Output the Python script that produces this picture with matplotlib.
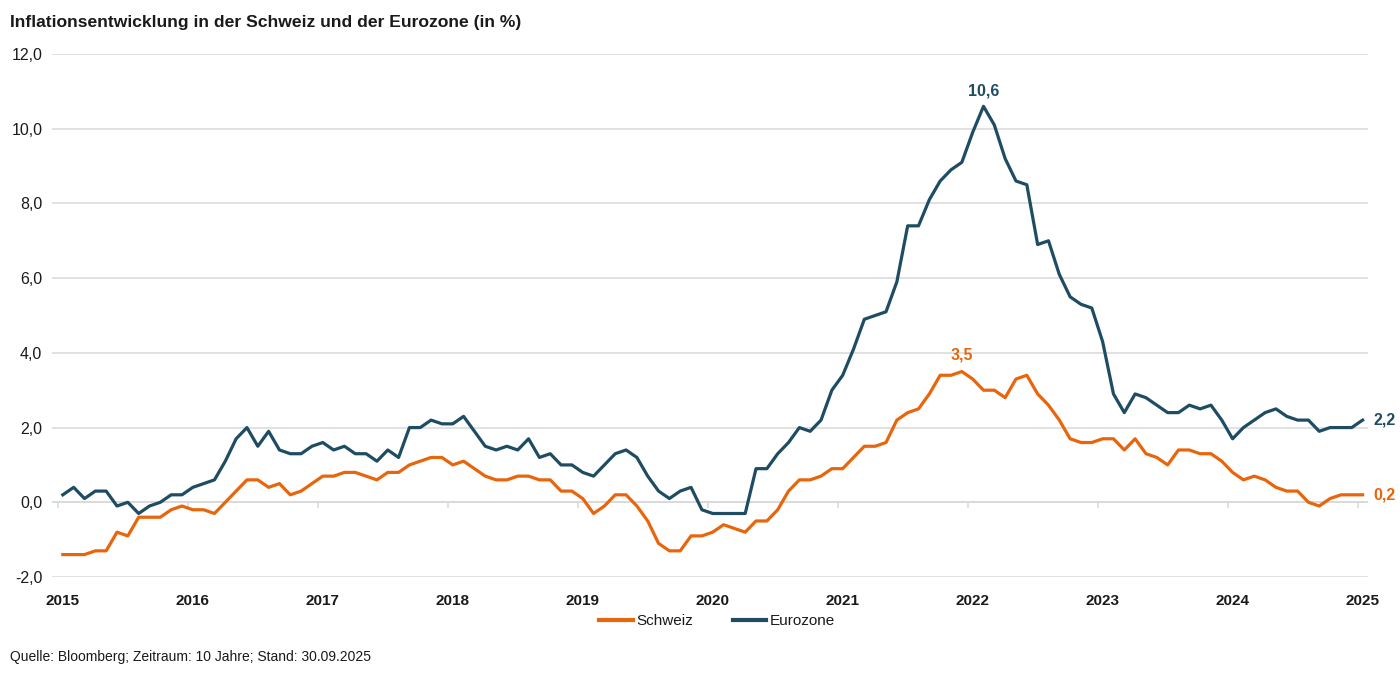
import matplotlib
matplotlib.use("Agg")
import matplotlib.pyplot as plt
import numpy as np

plt.rcParams['font.family'] = ['Liberation Sans', 'DejaVu Sans']

# Monthly inflation (in %), 121 observations
schweiz = [
    -1.4, -1.4, -1.4, -1.3,
    -1.3, -0.8, -0.9, -0.4, -0.4, -0.4, -0.2, -0.1, -0.2, -0.2, -0.3, 0.0,
    0.3, 0.6, 0.6, 0.4, 0.5, 0.2, 0.3, 0.5, 0.7, 0.7, 0.8, 0.8,
    0.7, 0.6, 0.8, 0.8, 1.0, 1.1, 1.2, 1.2, 1.0, 1.1, 0.9, 0.7,
    0.6, 0.6, 0.7, 0.7, 0.6, 0.6, 0.3, 0.3, 0.1, -0.3, -0.1, 0.2,
    0.2, -0.1, -0.5, -1.1, -1.3, -1.3, -0.9, -0.9, -0.8, -0.6, -0.7, -0.8,
    -0.5, -0.5, -0.2, 0.3, 0.6, 0.6, 0.7, 0.9, 0.9, 1.2, 1.5, 1.5,
    1.6, 2.2, 2.4, 2.5, 2.9, 3.4, 3.4, 3.5, 3.3, 3.0, 3.0, 2.8,
    3.3, 3.4, 2.9, 2.6, 2.2, 1.7, 1.6, 1.6, 1.7, 1.7, 1.4, 1.7,
    1.3, 1.2, 1.0, 1.4, 1.4, 1.3, 1.3, 1.1, 0.8, 0.6, 0.7, 0.6,
    0.4, 0.3, 0.3, 0.0, -0.1, 0.1, 0.2, 0.2, 0.2,
]
eurozone = [
    0.2, 0.4, 0.1, 0.3,
    0.3, -0.1, 0.0, -0.3, -0.1, 0.0, 0.2, 0.2, 0.4, 0.5, 0.6, 1.1,
    1.7, 2.0, 1.5, 1.9, 1.4, 1.3, 1.3, 1.5, 1.6, 1.4, 1.5, 1.3,
    1.3, 1.1, 1.4, 1.2, 2.0, 2.0, 2.2, 2.1, 2.1, 2.3, 1.9, 1.5,
    1.4, 1.5, 1.4, 1.7, 1.2, 1.3, 1.0, 1.0, 0.8, 0.7, 1.0, 1.3,
    1.4, 1.2, 0.7, 0.3, 0.1, 0.3, 0.4, -0.2, -0.3, -0.3, -0.3, -0.3,
    0.9, 0.9, 1.3, 1.6, 2.0, 1.9, 2.2, 3.0, 3.4, 4.1, 4.9, 5.0,
    5.1, 5.9, 7.4, 7.4, 8.1, 8.6, 8.9, 9.1, 9.9, 10.6, 10.1, 9.2,
    8.6, 8.5, 6.9, 7.0, 6.1, 5.5, 5.3, 5.2, 4.3, 2.9, 2.4, 2.9,
    2.8, 2.6, 2.4, 2.4, 2.6, 2.5, 2.6, 2.2, 1.7, 2.0, 2.2, 2.4,
    2.5, 2.3, 2.2, 2.2, 1.9, 2.0, 2.0, 2.0, 2.2,
]
year_labels = ['2015', '2016', '2017', '2018', '2019', '2020',
               '2021', '2022', '2023', '2024', '2025']
y_ticks = [-2, 0, 2, 4, 6, 8, 10, 12]

series_names = ['Schweiz', 'Eurozone']
title = 'Inflationsentwicklung in der Schweiz und der Eurozone (in %)'
source = 'Quelle: Bloomberg; Zeitraum: 10 Jahre; Stand: 30.09.2025'

ORANGE = '#E8650C'
BLUE = '#1E4D63'
GRID = '#D9D9D9'
TEXT = '#1A1A1A'

W, H = 1400, 678
fig = plt.figure(figsize=(W / 100, H / 100), dpi=100)
ax = fig.add_axes([52 / W, 1 - 577 / H, (1368 - 52) / W, (577 - 54) / H])

x = np.arange(len(schweiz))
ax.plot(x, schweiz, color=ORANGE, lw=2.3, label=series_names[0], zorder=3)
ax.plot(x, eurozone, color=BLUE, lw=2.3, label=series_names[1], zorder=4)

ax.set_xlim(-1.0, 120.5)
ax.set_ylim(-2, 12)

# grid
ax.set_yticks(y_ticks)
ax.set_yticklabels([f'{v:.1f}'.replace('.', ',') for v in y_ticks],
                   fontsize=11.5, color=TEXT)
ax.yaxis.grid(True, color=GRID, lw=1.1, zorder=0)
ax.tick_params(axis='y', length=0, pad=7)

tick_pos = [12 * k for k in range(len(year_labels))]
ax.set_xticks(tick_pos)
ax.set_xticklabels(year_labels, fontsize=11, color=TEXT, fontweight='bold')
ax.tick_params(axis='x', length=0, pad=12)

for s in ax.spines.values():
    s.set_visible(False)
ax.set_axisbelow(True)

# category axis at 0 with small tick marks
ax.axhline(0, color=GRID, lw=1.1, zorder=1)
ax.vlines([p - 0.45 for p in tick_pos], -0.15, 0, color=GRID, lw=1.1, zorder=1)

# annotations
i_max = int(np.argmax(eurozone))
ax.annotate(f'{eurozone[i_max]:.1f}'.replace('.', ','), (x[i_max], eurozone[i_max]),
            xytext=(0, 11), textcoords='offset points', ha='center', va='center',
            color=BLUE, fontsize=11.5, fontweight='bold')
i_smax = int(np.argmax(schweiz))
ax.annotate(f'{schweiz[i_smax]:.1f}'.replace('.', ','), (x[i_smax], schweiz[i_smax]),
            xytext=(0, 12), textcoords='offset points', ha='center', va='center',
            color=ORANGE, fontsize=11.5, fontweight='bold')
ax.annotate(f'{eurozone[-1]:.1f}'.replace('.', ','), (x[-1], eurozone[-1]),
            xytext=(8, 0), textcoords='offset points', ha='left', va='center',
            color=BLUE, fontsize=11.5, fontweight='bold', annotation_clip=False)
ax.annotate(f'{schweiz[-1]:.1f}'.replace('.', ','), (x[-1], schweiz[-1]),
            xytext=(8, 0), textcoords='offset points', ha='left', va='center',
            color=ORANGE, fontsize=11.5, fontweight='bold', annotation_clip=False)

# legend
leg = fig.legend(loc='center', bbox_to_anchor=(717 / W, 1 - 621 / H), ncol=2,
                 frameon=False, fontsize=11, handlelength=2.2, handletextpad=0.2,
                 columnspacing=2.6)
for line in leg.get_lines():
    line.set_linewidth(3)
for t in leg.get_texts():
    t.set_color(TEXT)

fig.text(10 / W, 1 - 22 / H, title, ha='left', va='center', fontsize=12.6,
         fontweight='bold', color=TEXT)
fig.text(10 / W, 1 - 657 / H, source, ha='left', va='center', fontsize=10,
         color=TEXT)

fig.savefig('out.png', dpi=100)
